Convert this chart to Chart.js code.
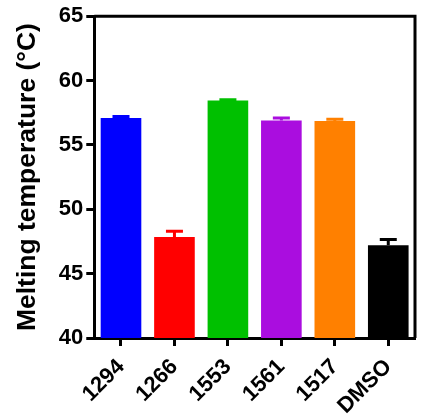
<!DOCTYPE html>
<html>
<head>
<meta charset="utf-8">
<script src="https://cdn.jsdelivr.net/npm/chart.js@4"></script>
<style>
  html, body { margin: 0; padding: 0; background: #fff; }
  #wrap { width: 422px; height: 419px; }
</style>
</head>
<body>
<div id="wrap"><canvas id="myChart"></canvas></div>
<script>
// data
var compounds = ["1294", "1266", "1553", "1561", "1517", "DMSO"];
var meltTemp = [57.1, 47.85, 58.45, 56.9, 56.85, 47.2];
var semErr = [0.1, 0.45, 0.05, 0.2, 0.15, 0.45];
var barColors = ["#0000ff", "#ff0000", "#00c000", "#aa0ddf", "#ff8000", "#000000"];
var yTicks = [40, 45, 50, 55, 60, 65];

var tickFont = { family: "Liberation Sans, Arial, sans-serif", size: 22, weight: "bold" };

//draws upper error bars and the frame around the plot
var errorBars = {
  id: "errorBars",
  afterDatasetsDraw: function(chart) {
    var ctx = chart.ctx;
    var yScale = chart.scales.y;
    var meta = chart.getDatasetMeta(0);
    ctx.save();
    meta.data.forEach(function(bar, i) {
      var yTop = yScale.getPixelForValue(meltTemp[i] + semErr[i]);
      var yBar = yScale.getPixelForValue(meltTemp[i]);
      ctx.strokeStyle = barColors[i];
      ctx.lineWidth = 3;
      ctx.beginPath();
      ctx.moveTo(bar.x, yBar);
      ctx.lineTo(bar.x, yTop);
      ctx.moveTo(bar.x - 8.5, yTop);
      ctx.lineTo(bar.x + 8.5, yTop);
      ctx.stroke();
    });
    var a = chart.chartArea;
    ctx.strokeStyle = "#000";
    ctx.lineWidth = 3;
    ctx.beginPath();
    ctx.moveTo(a.left, a.top);
    ctx.lineTo(a.right, a.top);
    ctx.lineTo(a.right, a.bottom);
    ctx.stroke();
    ctx.restore();
  }
};

var ctx = document.getElementById("myChart").getContext("2d");
var myChart = new Chart(ctx, {
  type: "bar",
  data: {
    labels: compounds,
    datasets: [{
      data: meltTemp,
      backgroundColor: barColors,
      borderWidth: 0,
      categoryPercentage: 1,
      barPercentage: 0.76
    }]
  },
  options: {
    responsive: true,
    maintainAspectRatio: false,
    animation: false,
    layout: { padding: { top: 16, right: 7, left: 12, bottom: 0 } },
    plugins: { legend: { display: false }, tooltip: { enabled: false } },
    scales: {
      x: {
        afterFit: function(scale) { scale.height = 81; },
        grid: { display: true, drawOnChartArea: false, offset: false, tickLength: 8, tickWidth: 3, tickColor: "#000" },
        border: { color: "#000", width: 3 },
        ticks: { color: "#000", font: tickFont, maxRotation: 45, minRotation: 45, padding: 8 }
      },
      y: {
        min: 40,
        max: 65,
        afterBuildTicks: function(scale) {
          scale.ticks = yTicks.map(function(v) { return { value: v }; });
        },
        grid: { display: true, drawOnChartArea: false, tickLength: 8, tickWidth: 3, tickColor: "#000" },
        border: { color: "#000", width: 3 },
        ticks: { color: "#000", font: tickFont, padding: 3 },
        title: {
          display: true,
          text: "Melting temperature (°C)",
          color: "#000",
          font: { family: "Liberation Sans, Arial, sans-serif", size: 26.5, weight: "bold" },
          padding: { top: 0, bottom: 12 }
        }
      }
    }
  },
  plugins: [errorBars]
});
</script>
</body>
</html>
